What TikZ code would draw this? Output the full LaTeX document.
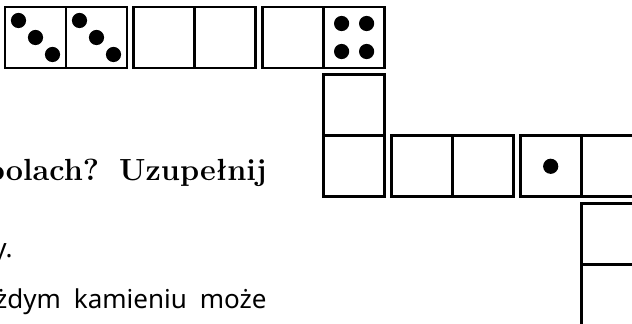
\documentclass[tikz,border=0pt]{standalone}
\usepackage{fontspec}
\newfontfamily\notosans{Noto Sans}
\usetikzlibrary{positioning}
\tikzset{
  half/.style ={rectangle,draw,line width=1.35pt,minimum size=30.5pt,inner sep=0pt,outer sep=0pt},
  pip/.style  ={fill=black},
  task/.style ={inner sep=0pt,anchor=base east,font=\fontsize{15.3pt}{18pt}\selectfont\bfseries},
  hint/.style ={inner sep=0pt,anchor=base east,font=\fontsize{13pt}{16pt}\notosans},
}
\begin{document}
\begin{tikzpicture}[x=0.5pt,y=-0.5pt,node distance=3.4pt]
  \useasboundingbox (0,0) rectangle (632,324);
  \clip (0,0) rectangle (632,324);
  % top row
  \node[half] (a1) at (35.5,37.5) {};
  \node[half,right=0pt of a1] (a2) {};
  \node[half,right=of a2] (b1) {};
  \node[half,right=0pt of b1] (b2) {};
  \node[half,right=of b2] (c1) {};
  \node[half,right=0pt of c1] (c2) {};
  % turning down
  \node[half,below=of c2] (d1) {};
  \node[half,below=0pt of d1] (d2) {};
  % second row
  \node[half,right=of d2] (e1) {};
  \node[half,right=0pt of e1] (e2) {};
  \node[half,right=of e2] (f1) {};
  \node[half,right=0pt of f1] (f2) {};
  % last one, cut by the edge
  \node[half,below=of f2] (g1) {};
  \node[half,below=0pt of g1] (g2) {};
  % pips
  \foreach \c in {a1,a2}
    \foreach \d in {-17,0,17}
      \fill[pip] ([shift={(\d,\d)}]\c) circle[radius=3.8pt];
  \foreach \dx in {-12.5,12.5}
    \foreach \dy in {-14,14}
      \fill[pip] ([shift={(\dx,\dy)}]c2) circle[radius=3.8pt];
  \fill[pip] (f1) circle[radius=3.8pt];
  % text of the page, cut on the left
  \node[task] (t1) at (267,181) {polach?\hspace{10pt}Uzupełnij};
  \node[hint] (t2) at (13,258) {y.};
  \node[hint] (t3) at (267,309) {żdym\hspace{6.5pt}kamieniu\hspace{6.5pt}może};
\end{tikzpicture}
\end{document}
